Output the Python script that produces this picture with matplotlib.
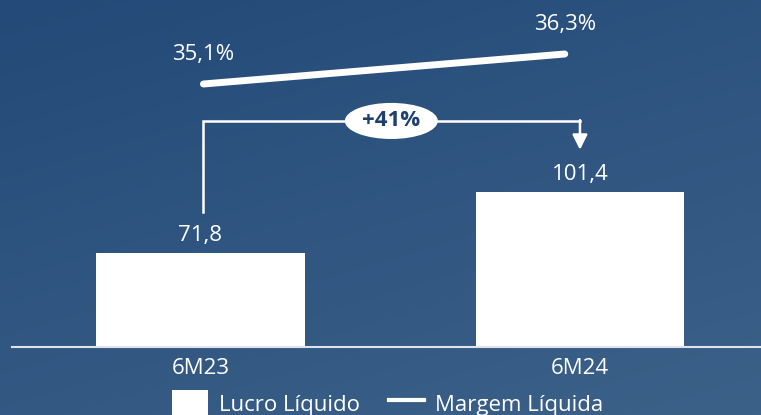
import matplotlib.pyplot as plt
import numpy as np
from matplotlib.colors import LinearSegmentedColormap
from matplotlib.lines import Line2D
from matplotlib.patches import Ellipse, Patch

categories = ["6M23", "6M24"]
lucro = [71.8, 101.4]
margem = [35.1, 36.3]
lucro_labels = ["71,8", "101,4"]
margem_labels = ["35,1%", "36,3%"]
growth_label = "+41%"

plt.rcParams["font.family"] = ["Open Sans", "DejaVu Sans"]

W, H = 761, 415
fig = plt.figure(figsize=(W / 100, H / 100), dpi=100)

# gradient background
bg = fig.add_axes([0, 0, 1, 1], zorder=0)
gx, gy = np.meshgrid(np.linspace(0, 1, 200), np.linspace(0, 1, 200))
grad = 0.65 * gy + 0.35 * gx
cmap = LinearSegmentedColormap.from_list("bg", ["#234a78", "#3c6189"])
bg.imshow(grad, cmap=cmap, aspect="auto", extent=[0, 1, 1, 0], vmin=0, vmax=1)
bg.set_axis_off()

base_px = 68  # baseline height from bottom, pixels
ax = fig.add_axes([0, base_px / H, 1, 1 - base_px / H], zorder=1)
ax.patch.set_alpha(0)
x = np.arange(len(categories))
ax.bar(x, lucro, width=0.55, color="white", zorder=2)
ax.set_xlim(-0.528, 1.477)
ax.set_ylim(26.2, 194.6)

for xi, v, lab in zip(x, lucro, lucro_labels):
    ax.text(xi, v + 3.5, lab, ha="center", va="bottom", color="white", fontsize=16)

for s in ["top", "left", "right"]:
    ax.spines[s].set_visible(False)
ax.spines["bottom"].set_color("#dfe4ea")
ax.spines["bottom"].set_linewidth(1.5)
ax.spines["bottom"].set_bounds(-0.497, 1.477)
ax.set_yticks([])
ax.set_xticks(x)
ax.set_xticklabels(categories, color="white", fontsize=16)
ax.tick_params(axis="x", length=0, pad=8)

# growth bracket
left_y = lucro[0] + 20
top_y = max(lucro) + 34.5
arrow_end = lucro[1] + 20.5
ax.plot([0.007, 0.007, 1.0], [left_y, top_y, top_y], color="white", lw=1.8,
        solid_joinstyle="miter", zorder=3)
ax.annotate("", xy=(1.0, arrow_end), xytext=(1.0, top_y + 0.4),
            arrowprops=dict(arrowstyle="-|>,head_length=0.9,head_width=0.45",
                            color="white", lw=1.8, shrinkA=0, shrinkB=0), zorder=3)
ax.add_patch(Ellipse((0.503, top_y), 0.245, 17.5, facecolor="white",
                     edgecolor="none", zorder=4))
ax.text(0.503, top_y, growth_label, ha="center", va="center", fontsize=16,
        fontweight="bold", color="#1f3f6e", zorder=5)

# margin line
ax2 = ax.twinx()
ax2.set_ylim(24.58, 38.46)
ax2.set_axis_off()
line_x = [0.008, 0.96]
ax2.plot(line_x, margem, color="white", lw=5, solid_capstyle="round", zorder=3)
for xi, v, lab in zip(line_x, margem, margem_labels):
    ax2.text(xi, v + 0.75, lab, ha="center", va="bottom", color="white", fontsize=16)

handles = [Patch(facecolor="white", edgecolor="none"),
           Line2D([0], [0], color="white", lw=3)]
fig.legend(handles, ["Lucro Líquido", "Margem Líquida"], loc="upper left",
           bbox_to_anchor=(172 / W, 1 - 390 / H), ncol=2, frameon=False,
           fontsize=16, labelcolor="white", handlelength=1.6, handleheight=1.5,
           columnspacing=1.3, handletextpad=0.5, borderpad=0, borderaxespad=0)

fig.savefig("out.png", dpi=100)
